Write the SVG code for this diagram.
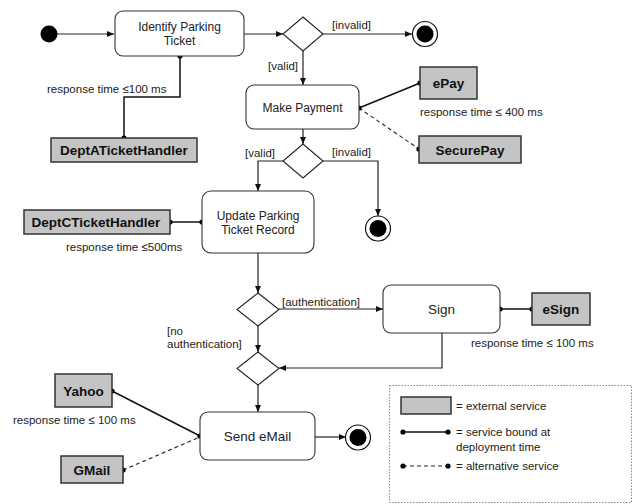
<svg xmlns="http://www.w3.org/2000/svg" width="634" height="504" viewBox="0 0 634 504">
<style>
text{font-family:"Liberation Sans",Arial,sans-serif;fill:#222}
.lbl{font-size:11.5px}
.nt{font-size:12px;text-anchor:middle}
.nb{font-size:13.5px;text-anchor:middle}
.st{font-size:13.5px;font-weight:bold;text-anchor:middle;fill:#111}
.act{fill:#fff;stroke:#333;stroke-width:1.1}
.svc{fill:#c4c4c4;stroke:#333;stroke-width:1.5}
.dia{fill:#fff;stroke:#222;stroke-width:1.1}
.c{fill:none;stroke:#222;stroke-width:1.2}
.b{fill:none;stroke:#111;stroke-width:1.5}
.d{fill:none;stroke:#222;stroke-width:1.1;stroke-dasharray:4,3}
.dot{fill:#000}
</style>
<defs>
<marker id="ar" markerUnits="userSpaceOnUse" markerWidth="7" markerHeight="6" refX="7" refY="3" orient="auto">
<path d="M0,0 L7,3 L0,6 z" fill="#111"/>
</marker>
</defs>
<g id="connectors">
<line class="c" x1="57" y1="34" x2="114" y2="34" marker-end="url(#ar)"/>
<line class="c" x1="244" y1="34" x2="283" y2="34" marker-end="url(#ar)"/>
<line class="c" x1="323" y1="34" x2="412" y2="34" marker-end="url(#ar)"/>
<line class="c" x1="303" y1="51" x2="303" y2="85" marker-end="url(#ar)"/>
<polyline class="b" points="180,56 180,97 124,97 124,138"/>
<circle class="dot" cx="180" cy="56" r="2.6"/>
<circle class="dot" cx="124" cy="138" r="2.6"/>
<line class="c" x1="303" y1="129" x2="303" y2="144" marker-end="url(#ar)"/>
<polyline class="c" points="283,161 258,161 258,191" marker-end="url(#ar)"/>
<polyline class="c" points="323,161 378,161 378,216" marker-end="url(#ar)"/>
<line class="b" x1="359" y1="108" x2="420" y2="83"/>
<line class="d" x1="359" y1="108" x2="419" y2="149"/>
<circle class="dot" cx="359" cy="108" r="2.6"/>
<circle class="dot" cx="420" cy="83" r="2.6"/>
<circle class="dot" cx="419" cy="149" r="2.6"/>
<line class="b" x1="170" y1="222" x2="202" y2="222"/>
<circle class="dot" cx="170" cy="222" r="2.6"/>
<circle class="dot" cx="202" cy="222" r="2.6"/>
<line class="c" x1="258" y1="253" x2="258" y2="293" marker-end="url(#ar)"/>
<line class="c" x1="279" y1="309" x2="383" y2="309" marker-end="url(#ar)"/>
<line class="c" x1="258" y1="326" x2="258" y2="352" marker-end="url(#ar)"/>
<line class="b" x1="500" y1="309" x2="532" y2="309"/>
<circle class="dot" cx="500" cy="309" r="2.6"/>
<circle class="dot" cx="532" cy="309" r="2.6"/>
<polyline class="c" points="442,333 442,368 279,368" marker-end="url(#ar)"/>
<line class="c" x1="258" y1="385" x2="258" y2="412" marker-end="url(#ar)"/>
<line class="c" x1="315" y1="437" x2="346" y2="437" marker-end="url(#ar)"/>
<line class="b" x1="112" y1="391" x2="200" y2="436"/>
<line class="d" x1="123" y1="470" x2="200" y2="437"/>
<circle class="dot" cx="112" cy="391" r="2.6"/>
<circle class="dot" cx="200" cy="436" r="2.6"/>
<circle class="dot" cx="123" cy="470" r="2.6"/>
<text class="lbl" x="332" y="29">[invalid]</text>
<text class="lbl" x="47" y="93">response time ≤100 ms</text>
<text class="lbl" x="268" y="70">[valid]</text>
<text class="lbl" x="420" y="116">response time ≤ 400 ms</text>
<text class="lbl" x="245" y="157">[valid]</text>
<text class="lbl" x="332" y="156">[invalid]</text>
<text class="lbl" x="66" y="251">response time ≤500ms</text>
<text class="lbl" x="282" y="306">[authentication]</text>
<text class="lbl" x="471" y="347">response time ≤ 100 ms</text>
<text class="lbl" x="167" y="335">[no</text>
<text class="lbl" x="167" y="348">authentication]</text>
<text class="lbl" x="13" y="424">response time ≤ 100 ms</text>
</g>
<g id="start"><circle cx="49" cy="34" r="8.5" fill="#000"/></g>
<g id="identify">
<rect class="act" x="115" y="11" width="129" height="45" rx="8"/>
<text class="nt" x="179.5" y="31">Identify Parking</text>
<text class="nt" x="179.5" y="45">Ticket</text>
</g>
<g id="decision1"><polygon class="dia" points="303,17 323,34 303,51 283,34"/></g>
<g id="end1"><circle cx="425" cy="34" r="12.5" fill="#fff" stroke="#111" stroke-width="1.2"/><circle cx="425" cy="34" r="8.5" fill="#000"/></g>
<g id="deptA"><rect class="svc" x="51" y="138" width="146" height="24"/><text class="st" x="124" y="155">DeptATicketHandler</text></g>
<g id="makePayment">
<rect class="act" x="246" y="85" width="113" height="44" rx="8"/>
<text class="nt" x="302.5" y="112">Make Payment</text>
</g>
<g id="ePay"><rect class="svc" x="420" y="67" width="57" height="32"/><text class="st" x="448.5" y="88">ePay</text></g>
<g id="securePay"><rect class="svc" x="419" y="136" width="102" height="27"/><text class="st" x="470" y="155">SecurePay</text></g>
<g id="decision2"><polygon class="dia" points="303,144 323,161 303,178 283,161"/></g>
<g id="end2"><circle cx="378" cy="228.5" r="12.5" fill="#fff" stroke="#111" stroke-width="1.2"/><circle cx="378" cy="228.5" r="8.5" fill="#000"/></g>
<g id="update">
<rect class="act" x="202" y="191" width="112" height="62" rx="9"/>
<text class="nt" x="258" y="220">Update Parking</text>
<text class="nt" x="258" y="234">Ticket Record</text>
</g>
<g id="deptC"><rect class="svc" x="24" y="210" width="146" height="24"/><text class="st" x="96" y="227">DeptCTicketHandler</text></g>
<g id="decision3"><polygon class="dia" points="258,293 279,309.5 258,326 237,309.5"/></g>
<g id="sign">
<rect class="act" x="383" y="285" width="117" height="48" rx="8"/>
<text class="nb" x="441.5" y="314">Sign</text>
</g>
<g id="eSign"><rect class="svc" x="532" y="293" width="58" height="32"/><text class="st" x="561" y="314">eSign</text></g>
<g id="decision4"><polygon class="dia" points="258,352 279,368.5 258,385 237,368.5"/></g>
<g id="sendEmail">
<rect class="act" x="200" y="412" width="115" height="48" rx="8"/>
<text class="nb" x="257.5" y="441">Send eMail</text>
</g>
<g id="end3"><circle cx="358" cy="437.5" r="12.5" fill="#fff" stroke="#111" stroke-width="1.2"/><circle cx="358" cy="437.5" r="8.5" fill="#000"/></g>
<g id="yahoo"><rect class="svc" x="55" y="374" width="57" height="33"/><text class="st" x="83.5" y="396">Yahoo</text></g>
<g id="gmail"><rect class="svc" x="61" y="456" width="62" height="27"/><text class="st" x="92" y="475">GMail</text></g>
<g id="legend">
<rect x="389.5" y="385.5" width="242" height="117" fill="none" stroke="#888" stroke-width="1" stroke-dasharray="1.5,1.5"/>
<rect class="svc" x="401" y="397" width="50" height="17"/>
<text class="lbl" x="456" y="410">= external service</text>
<line class="b" x1="403" y1="432" x2="448" y2="432"/>
<circle class="dot" cx="403" cy="432" r="2.6"/>
<circle class="dot" cx="448" cy="432" r="2.6"/>
<text class="lbl" x="456" y="436">= service bound at</text>
<text class="lbl" x="456" y="451">deployment time</text>
<line class="d" x1="403" y1="466" x2="448" y2="466"/>
<circle class="dot" cx="403" cy="466" r="2.6"/>
<circle class="dot" cx="448" cy="466" r="2.6"/>
<text class="lbl" x="456" y="470">= alternative service</text>
</g>
</svg>
